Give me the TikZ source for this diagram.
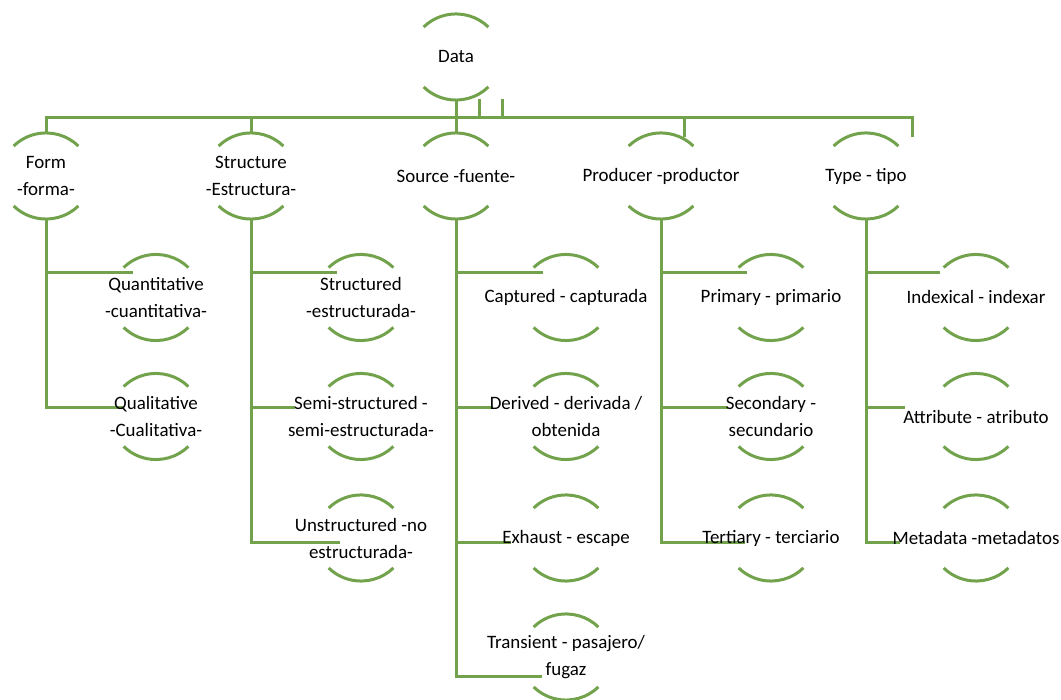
\documentclass[tikz,border=0pt]{standalone}
\usepackage{fontspec}
\setmainfont{Carlito}
\usetikzlibrary{backgrounds}
\definecolor{grn}{RGB}{114,163,76}
\begin{document}
\begin{tikzpicture}[x=0.75pt,y=0.75pt,
  hub/.style={circle,minimum size=64.5pt,inner sep=0pt,outer sep=0pt},
  lbl/.style={align=center,font=\fontsize{14.2}{20.25}\selectfont,inner sep=0pt,text=black},
  conn/.style={draw=grn,line width=2.25pt},
  arcs/.style={draw=grn,line width=2.25pt}]
\useasboundingbox (0,0) rectangle (1061,700);
% root
\node[hub,label={[lbl]center:Data}] (data) at (456,643) {};
% level 1
\node[hub,label={[lbl]center:{Form\\-forma-}}] (form) at (46,524) {};
\node[hub,label={[lbl]center:{Structure\\-Estructura-}}] (structure) at (251,524) {};
\node[hub,label={[lbl]center:{Source -fuente-}}] (source) at (456,524) {};
\node[hub,label={[lbl]center:{Producer -productor}}] (producer) at (661,524) {};
\node[hub,label={[lbl]center:{Type - tipo}}] (type) at (866,524) {};
% form children
\node[hub,label={[lbl]center:{Quantitative\\-cuantitativa-}}] (quant) at (156,402.5) {};
\node[hub,label={[lbl]center:{Qualitative\\-Cualitativa-}}] (qual) at (156,283.5) {};
% structure children
\node[hub,label={[lbl]center:{Structured\\-estructurada-}}] (struc) at (361,402.5) {};
\node[hub,label={[lbl]center:{Semi-structured -\\semi-estructurada-}}] (semi) at (361,283.5) {};
\node[hub,label={[lbl]center:{Unstructured -no\\estructurada-}}] (unstr) at (361,162) {};
% source children
\node[hub,label={[lbl]center:{Captured - capturada}}] (capt) at (566,402.5) {};
\node[hub,label={[lbl]center:{Derived - derivada /\\obtenida}}] (deriv) at (566,283.5) {};
\node[hub,label={[lbl]center:{Exhaust - escape}}] (exh) at (566,162) {};
\node[hub,label={[lbl]center:{Transient - pasajero/\\fugaz}}] (trans) at (566,43) {};
% producer children
\node[hub,label={[lbl]center:{Primary - primario}}] (prim) at (771,402.5) {};
\node[hub,label={[lbl]center:{Secondary -\\secundario}}] (sec) at (771,283.5) {};
\node[hub,label={[lbl]center:{Tertiary - terciario}}] (tert) at (771,162) {};
% type children
\node[hub,label={[lbl]center:{Indexical - indexar}}] (idx) at (976,402.5) {};
\node[hub,label={[lbl]center:{Attribute - atributo}}] (attr) at (976,283.5) {};
\node[hub,label={[lbl]center:{Metadata -metadatos}}] (meta) at (976,162) {};
% arcs
\foreach \n in {data,form,structure,source,producer,type,quant,qual,struc,semi,unstr,capt,deriv,exh,trans,prim,sec,tert,idx,attr,meta}{
  \draw[arcs] ([shift={(32.4,29.9)}]\n.center) arc[start angle=44,end angle=136,x radius=33.75pt,y radius=32.25pt];
  \draw[arcs] ([shift={(32.4,-29.9)}]\n.center) arc[start angle=-44,end angle=-136,x radius=33.75pt,y radius=32.25pt];
}
% free ends of connectors
\coordinate (busR) at (912,582);
\coordinate (typeEnd) at (912,563);
\coordinate (prodTop) at (684,582);
\coordinate (prodEnd) at (684,563);
\coordinate (tickA) at (479,601);
\coordinate (tickAb) at (479,582);
\coordinate (tickB) at (502,601);
\coordinate (tickBb) at (502,582);
\coordinate (eQuant) at (133,427);
\coordinate (eQual) at (123,292);
\coordinate (eStruc) at (337,427);
\coordinate (eSemi) at (295,292);
\coordinate (eUnstr) at (340,157);
\coordinate (eCapt) at (543,427);
\coordinate (eDeriv) at (493,292);
\coordinate (eExh) at (511,157);
\coordinate (eTrans) at (542,23);
\coordinate (ePrim) at (747,427);
\coordinate (eSec) at (728,292);
\coordinate (eTert) at (745,157);
\coordinate (eIdx) at (940,427);
\coordinate (eAttr) at (905,292);
\coordinate (eMeta) at (900,157);
\begin{pgfonlayer}{background}
\draw[conn] (form.north) |- (busR) -- (typeEnd);
\draw[conn] (data.south) -- (source.north);
\draw[conn] (structure.north) -- (structure.north |- busR);
\draw[conn] (prodTop) -- (prodEnd);
\draw[conn] (tickA) -- (tickAb);
\draw[conn] (tickB) -- (tickBb);
\draw[conn] (form.south) |- (eQuant);
\draw[conn] (form.south) |- (eQual);
\draw[conn] (structure.south) |- (eStruc);
\draw[conn] (structure.south) |- (eSemi);
\draw[conn] (structure.south) |- (eUnstr);
\draw[conn] (source.south) |- (eCapt);
\draw[conn] (source.south) |- (eDeriv);
\draw[conn] (source.south) |- (eExh);
\draw[conn] (source.south) |- (eTrans);
\draw[conn] (producer.south) |- (ePrim);
\draw[conn] (producer.south) |- (eSec);
\draw[conn] (producer.south) |- (eTert);
\draw[conn] (type.south) |- (eIdx);
\draw[conn] (type.south) |- (eAttr);
\draw[conn] (type.south) |- (eMeta);
\end{pgfonlayer}
\end{tikzpicture}
\end{document}
